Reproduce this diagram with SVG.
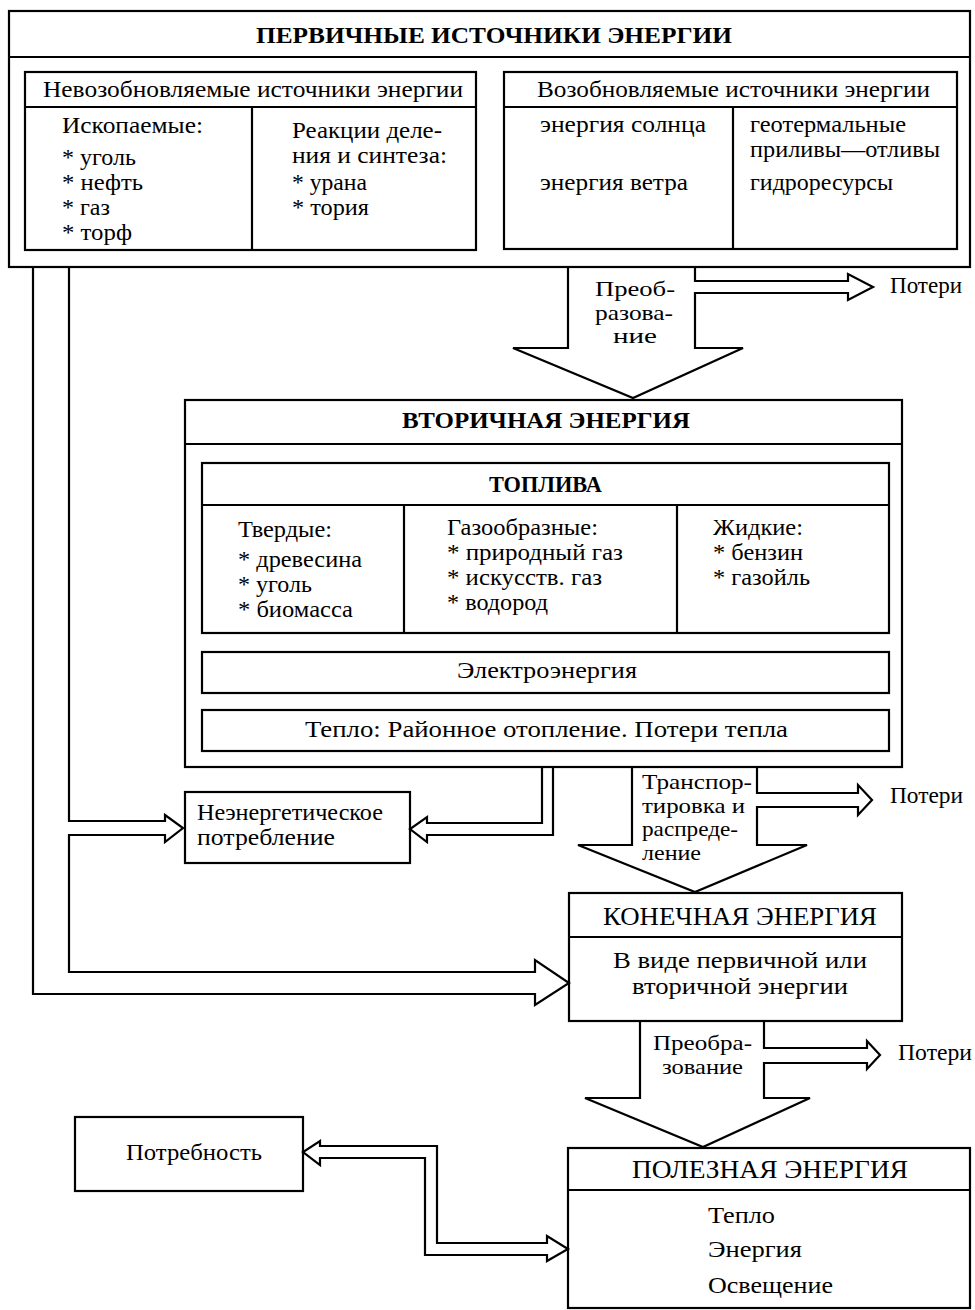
<svg xmlns="http://www.w3.org/2000/svg" width="975" height="1310" viewBox="0 0 975 1310">
<style>
.t{font-family:"Liberation Serif","Times New Roman",serif;font-size:22.5px;fill:#000}
.s{font-size:21px}
.b{font-weight:bold}
.box{fill:#fff;stroke:#000;stroke-width:2.2}
.ln{fill:none;stroke:#000;stroke-width:2.2;stroke-linejoin:miter}
</style>
<rect width="975" height="1310" fill="#fff"/>

<g id="primary">
<rect class="box" x="9" y="11" width="961" height="256"/>
<line class="ln" x1="9" y1="57" x2="970" y2="57"/>
<text class="t b" x="256" y="43" style="font-size:24px" textLength="476" lengthAdjust="spacingAndGlyphs">ПЕРВИЧНЫЕ ИСТОЧНИКИ ЭНЕРГИИ</text>
</g>

<g id="nonrenewable">
<rect class="box" x="25" y="72" width="451" height="178"/>
<line class="ln" x1="25" y1="107" x2="476" y2="107"/>
<line class="ln" x1="252" y1="107" x2="252" y2="250"/>
<text class="t" x="43" y="97" textLength="420" lengthAdjust="spacingAndGlyphs">Невозобновляемые источники энергии</text>
<text class="t" x="62" y="133" textLength="141" lengthAdjust="spacingAndGlyphs">Ископаемые:</text>
<text class="t" x="62" y="165" textLength="74" lengthAdjust="spacingAndGlyphs">* уголь</text>
<text class="t" x="62" y="190" textLength="81" lengthAdjust="spacingAndGlyphs">* нефть</text>
<text class="t" x="62" y="215" textLength="48" lengthAdjust="spacingAndGlyphs">* газ</text>
<text class="t" x="62" y="240" textLength="70" lengthAdjust="spacingAndGlyphs">* торф</text>
<text class="t" x="292" y="138" textLength="150" lengthAdjust="spacingAndGlyphs">Реакции деле-</text>
<text class="t" x="292" y="163" textLength="155" lengthAdjust="spacingAndGlyphs">ния и синтеза:</text>
<text class="t" x="292" y="190" textLength="75" lengthAdjust="spacingAndGlyphs">* урана</text>
<text class="t" x="292" y="215" textLength="77" lengthAdjust="spacingAndGlyphs">* тория</text>
</g>

<g id="renewable">
<rect class="box" x="504" y="72" width="453" height="177"/>
<line class="ln" x1="504" y1="107" x2="957" y2="107"/>
<line class="ln" x1="733" y1="107" x2="733" y2="249"/>
<text class="t" x="537" y="97" textLength="393" lengthAdjust="spacingAndGlyphs">Возобновляемые источники энергии</text>
<text class="t" x="540" y="132" textLength="166" lengthAdjust="spacingAndGlyphs">энергия солнца</text>
<text class="t" x="540" y="190" textLength="148" lengthAdjust="spacingAndGlyphs">энергия ветра</text>
<text class="t" x="750" y="132" textLength="156" lengthAdjust="spacingAndGlyphs">геотермальные</text>
<text class="t" x="750" y="157" textLength="190" lengthAdjust="spacingAndGlyphs">приливы—отливы</text>
<text class="t" x="750" y="190" textLength="143" lengthAdjust="spacingAndGlyphs">гидроресурсы</text>
</g>

<g id="secondary">
<rect class="box" x="185" y="400" width="717" height="367"/>
<line class="ln" x1="185" y1="444" x2="902" y2="444"/>
<text class="t b" x="402" y="428" style="font-size:24px" textLength="288" lengthAdjust="spacingAndGlyphs">ВТОРИЧНАЯ ЭНЕРГИЯ</text>
</g>

<g id="fuels">
<rect class="box" x="202" y="463" width="687" height="170"/>
<line class="ln" x1="202" y1="505" x2="889" y2="505"/>
<line class="ln" x1="404" y1="505" x2="404" y2="633"/>
<line class="ln" x1="677" y1="505" x2="677" y2="633"/>
<text class="t b" x="489" y="492" style="font-size:23px" textLength="113" lengthAdjust="spacingAndGlyphs">ТОПЛИВА</text>
<text class="t" x="238" y="537" textLength="94" lengthAdjust="spacingAndGlyphs">Твердые:</text>
<text class="t" x="238" y="567" textLength="124" lengthAdjust="spacingAndGlyphs">* древесина</text>
<text class="t" x="238" y="592" textLength="74" lengthAdjust="spacingAndGlyphs">* уголь</text>
<text class="t" x="238" y="617" textLength="115" lengthAdjust="spacingAndGlyphs">* биомасса</text>
<text class="t" x="447" y="535" textLength="151" lengthAdjust="spacingAndGlyphs">Газообразные:</text>
<text class="t" x="447" y="560" textLength="176" lengthAdjust="spacingAndGlyphs">* природный газ</text>
<text class="t" x="447" y="585" textLength="155" lengthAdjust="spacingAndGlyphs">* искусств. газ</text>
<text class="t" x="447" y="610" textLength="101" lengthAdjust="spacingAndGlyphs">* водород</text>
<text class="t" x="713" y="535" textLength="90" lengthAdjust="spacingAndGlyphs">Жидкие:</text>
<text class="t" x="713" y="560" textLength="90" lengthAdjust="spacingAndGlyphs">* бензин</text>
<text class="t" x="713" y="585" textLength="97" lengthAdjust="spacingAndGlyphs">* газойль</text>
</g>

<g id="electricity">
<rect class="box" x="202" y="652" width="687" height="41"/>
<text class="t" x="457" y="678" textLength="180" lengthAdjust="spacingAndGlyphs">Электроэнергия</text>
</g>

<g id="heat">
<rect class="box" x="202" y="710" width="687" height="41"/>
<text class="t" x="305" y="737" textLength="483" lengthAdjust="spacingAndGlyphs">Тепло: Районное отопление. Потери тепла</text>
</g>

<g id="nonenergy">
<rect class="box" x="185" y="792" width="225" height="71"/>
<text class="t" x="197" y="820" textLength="186" lengthAdjust="spacingAndGlyphs">Неэнергетическое</text>
<text class="t" x="197" y="845" textLength="138" lengthAdjust="spacingAndGlyphs">потребление</text>
</g>

<g id="final">
<rect class="box" x="569" y="893" width="333" height="128"/>
<line class="ln" x1="569" y1="937" x2="902" y2="937"/>
<text class="t" x="603" y="925" style="font-size:25px" textLength="274" lengthAdjust="spacingAndGlyphs">КОНЕЧНАЯ ЭНЕРГИЯ</text>
<text class="t" x="613" y="968" textLength="254" lengthAdjust="spacingAndGlyphs">В виде первичной или</text>
<text class="t" x="632" y="994" textLength="216" lengthAdjust="spacingAndGlyphs">вторичной энергии</text>
</g>

<g id="demand">
<rect class="box" x="75" y="1117" width="228" height="74"/>
<text class="t" x="126" y="1160" textLength="136" lengthAdjust="spacingAndGlyphs">Потребность</text>
</g>

<g id="useful">
<rect class="box" x="568" y="1148" width="402" height="160"/>
<line class="ln" x1="568" y1="1190" x2="970" y2="1190"/>
<text class="t" x="632" y="1178" style="font-size:25px" textLength="276" lengthAdjust="spacingAndGlyphs">ПОЛЕЗНАЯ ЭНЕРГИЯ</text>
<text class="t" x="708" y="1223" textLength="67" lengthAdjust="spacingAndGlyphs">Тепло</text>
<text class="t" x="708" y="1257" textLength="94" lengthAdjust="spacingAndGlyphs">Энергия</text>
<text class="t" x="708" y="1293" textLength="125" lengthAdjust="spacingAndGlyphs">Освещение</text>
</g>

<g id="connectors">
<!-- conversion 1 -->
<path class="ln" d="M568,267 V348 H513 L633,398 L743,348 H695 V293 H848 V300 L873,287 L848,274 V281 H695 V267"/>
<text class="t s" x="595" y="296" textLength="80" lengthAdjust="spacingAndGlyphs">Преоб-</text>
<text class="t s" x="595" y="319.5" textLength="78" lengthAdjust="spacingAndGlyphs">разова-</text>
<text class="t s" x="613" y="343" textLength="44" lengthAdjust="spacingAndGlyphs">ние</text>
<text class="t" x="890" y="293" textLength="72" lengthAdjust="spacingAndGlyphs">Потери</text>

<!-- transport -->
<path class="ln" d="M632,767 V845 H578 L695,892 L807,845 H757 V807 H858 V815 L872,800 L858,785 V793 H757 V767"/>
<text class="t s" x="642" y="789" textLength="110" lengthAdjust="spacingAndGlyphs">Транспор-</text>
<text class="t s" x="642" y="812.5" textLength="103" lengthAdjust="spacingAndGlyphs">тировка и</text>
<text class="t s" x="642" y="836" textLength="96" lengthAdjust="spacingAndGlyphs">распреде-</text>
<text class="t s" x="642" y="859.5" textLength="59" lengthAdjust="spacingAndGlyphs">ление</text>
<text class="t" x="890" y="803" textLength="73" lengthAdjust="spacingAndGlyphs">Потери</text>

<!-- conversion 2 -->
<path class="ln" d="M640,1021 V1098 H585 L703,1147 L810,1098 H764 V1063 H867 V1069 L880,1055 L867,1041 V1048 H764 V1021"/>
<text class="t s" x="653" y="1050" textLength="99" lengthAdjust="spacingAndGlyphs">Преобра-</text>
<text class="t s" x="662" y="1073.5" textLength="81" lengthAdjust="spacingAndGlyphs">зование</text>
<text class="t" x="898" y="1060" textLength="74" lengthAdjust="spacingAndGlyphs">Потери</text>

<!-- primary to non-energy and final -->
<path class="ln" d="M69,267 V821 H165 V815 L183,828 L165,842 V835 H69 V972 H535 V960 L569,983 L535,1005 V994 H33 V267"/>

<!-- secondary to non-energy -->
<path class="ln" d="M542,767 V823 H427 V817 L410,829 L427,842 V835 H553 V767"/>

<!-- demand <-> useful -->
<path class="ln" d="M320,1146 V1141 L303,1152 L320,1165 V1158 H425 V1255 H547 V1261 L568,1249 L547,1236 V1243 H437 V1146 Z"/>
</g>
</svg>
